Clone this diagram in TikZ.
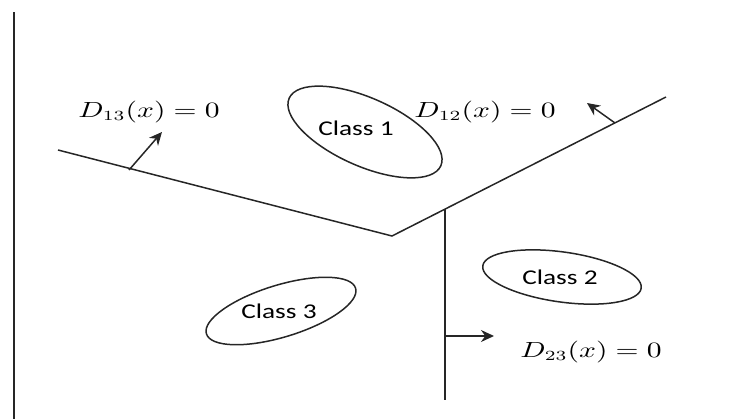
\documentclass[tikz,border=0pt]{standalone}
\usepackage{fontspec}
\setsansfont{Carlito}
\usepackage{tikz}
\usetikzlibrary{arrows.meta,shapes.geometric}
\newcommand{\widen}[2][1.3]{\scalebox{#1}[1]{#2}}
\tikzset{
  >={Stealth[length=6.5pt,width=6pt]},
  bound/.style={line width=0.75pt,black!85},
  normal/.style={->,line width=0.75pt,black!85},
  classring/.style={ellipse,draw=black!85,line width=0.75pt,inner sep=0pt},
  classlbl/.style={font=\sffamily\fontsize{10.5}{12}\selectfont,inner sep=1pt},
  eqlbl/.style={font=\fontsize{10.5}{12}\selectfont,inner sep=1pt},
}
\begin{document}
\begin{tikzpicture}[x=0.5pt,y=0.5pt]
  \useasboundingbox (0,0) rectangle (746,419);
  % axis on the left
  \coordinate (axtop) at (14,407);
  \coordinate (axbot) at (14,0);
  \draw[bound] (axtop) -- (axbot);
  % decision boundaries
  \coordinate (l13) at (58,269);
  \coordinate (apex) at (392,183);
  \coordinate (r12) at (666,322);
  \coordinate (top23) at (445,210);
  \coordinate (bot23) at (445,19);
  \draw[bound] (l13) -- (apex) -- (r12);
  \draw[bound] (top23) -- (bot23);
  % normals
  \coordinate (n13a) at (129,249);
  \coordinate (n13b) at (162,287);
  \coordinate (n12a) at (615,296);
  \coordinate (n12b) at (587,316);
  \coordinate (n23a) at (445,83);
  \coordinate (n23b) at (494,83);
  \draw[normal] (n13a) -- (n13b);
  \draw[normal] (n12a) -- (n12b);
  \draw[normal] (n23a) -- (n23b);
  % classes
  \node[classring,rotate=-24,minimum width=83pt,minimum height=34pt] (ring1) at (365,287) {};
  \node[classring,rotate=-8,minimum width=80pt,minimum height=25pt] (ring2) at (562,142) {};
  \node[classring,rotate=17,minimum width=78pt,minimum height=26pt] (ring3) at (281,108) {};
  \node[classlbl] (class1) at (356,291) {\widen{Class 1}};
  \node[classlbl] (class2) at (560,142) {\widen{Class 2}};
  \node[classlbl] (class3) at (279,108) {\widen{Class 3}};
  % labels
  \node[eqlbl] (eq13) at (149,307) {\widen[1.35]{$D_{13}(x)=0$}};
  \node[eqlbl] (eq12) at (485,307) {\widen[1.35]{$D_{12}(x)=0$}};
  \node[eqlbl] (eq23) at (591,67) {\widen[1.35]{$D_{23}(x)=0$}};
\end{tikzpicture}
\end{document}
